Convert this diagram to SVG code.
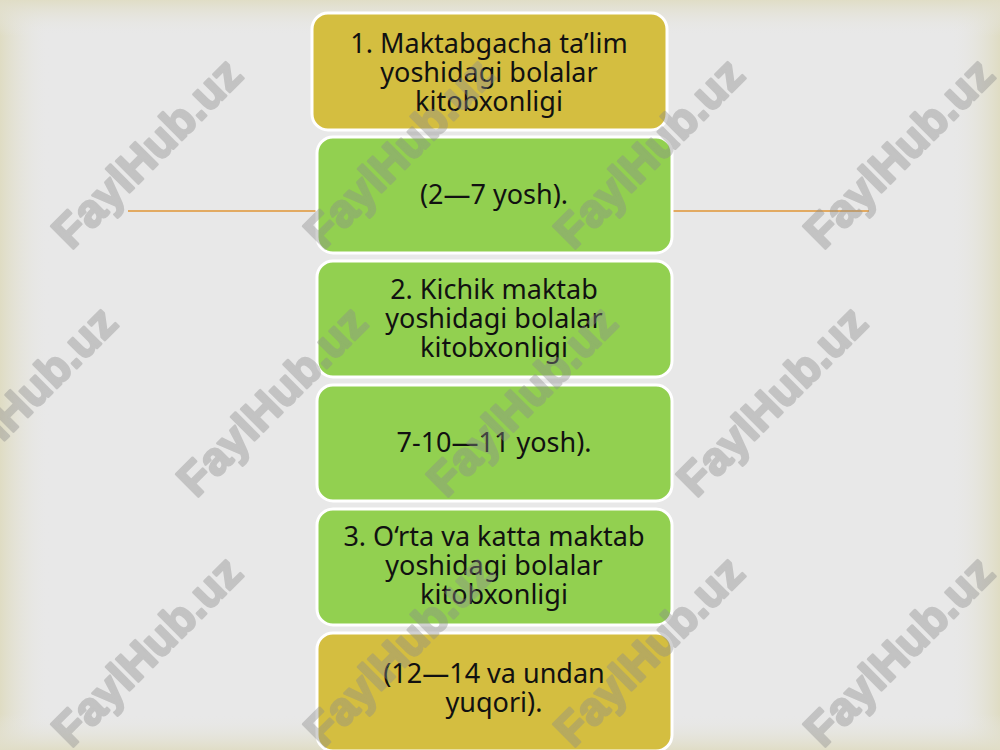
<svg xmlns="http://www.w3.org/2000/svg" width="1000" height="750" viewBox="0 0 1000 750">
<defs>
<linearGradient id="gl" x1="0" y1="0" x2="1" y2="0"><stop offset="0" stop-color="#dfdcc3"/><stop offset="1" stop-color="#e8e8e8" stop-opacity="0"/></linearGradient>
<linearGradient id="gr" x1="1" y1="0" x2="0" y2="0"><stop offset="0" stop-color="#dfdcc3"/><stop offset="1" stop-color="#e8e8e8" stop-opacity="0"/></linearGradient>
<linearGradient id="gt" x1="0" y1="0" x2="0" y2="1"><stop offset="0" stop-color="#e0ddc6"/><stop offset="1" stop-color="#e8e8e8" stop-opacity="0"/></linearGradient>
<linearGradient id="gb" x1="0" y1="1" x2="0" y2="0"><stop offset="0" stop-color="#e0ddc6"/><stop offset="1" stop-color="#e8e8e8" stop-opacity="0"/></linearGradient>
</defs>
<style>
.box{stroke:#ffffff;stroke-width:3}
.y{fill:#d4be40}
.g{fill:#92d050}
.t{font-family:"Noto Sans","Open Sans","DejaVu Sans",sans-serif;font-size:27px;fill:#111;text-anchor:middle}
.line{stroke:#e2aa62;stroke-width:2;fill:none}
.wm{font-family:"Liberation Sans",Arial,sans-serif;font-weight:bold;font-size:46px;fill:#8c8c8c;stroke:#8c8c8c;stroke-width:2.5;stroke-linejoin:round;text-anchor:middle}
</style>
<rect x="0" y="0" width="1000" height="750" fill="#e8e8e8"/>
<rect x="0" y="0" width="50" height="750" fill="url(#gl)"/>
<rect x="950" y="0" width="50" height="750" fill="url(#gr)"/>
<rect x="0" y="0" width="1000" height="36" fill="url(#gt)"/>
<rect x="0" y="714" width="1000" height="36" fill="url(#gb)"/>
<g id="connectors">
<line class="line" x1="128" y1="211" x2="316" y2="211"/>
<line class="line" x1="672" y1="211" x2="869" y2="211"/>
</g>
<g id="node1"><rect class="box y" x="312" y="13" width="355" height="117" rx="16"/>
<text class="t" x="489" y="53">1. Maktabgacha ta’lim</text><text class="t" x="489" y="82">yoshidagi bolalar</text><text class="t" x="489" y="111">kitobxonligi</text></g>
<g id="node2"><rect class="box g" x="317" y="137" width="355" height="116" rx="16"/>
<text class="t" x="494" y="204">(2—7 yosh).</text></g>
<g id="node3"><rect class="box g" x="317" y="261" width="355" height="116" rx="16"/>
<text class="t" x="494" y="299">2. Kichik maktab</text><text class="t" x="494" y="328">yoshidagi bolalar</text><text class="t" x="494" y="357">kitobxonligi</text></g>
<g id="node4"><rect class="box g" x="317" y="385" width="355" height="116" rx="16"/>
<text class="t" x="494" y="452">7-10—11 yosh).</text></g>
<g id="node5"><rect class="box g" x="317" y="509" width="355" height="116" rx="16"/>
<text class="t" x="494" y="546">3. O‘rta va katta maktab</text><text class="t" x="494" y="575">yoshidagi bolalar</text><text class="t" x="494" y="604">kitobxonligi</text></g>
<g id="node6"><rect class="box y" x="317" y="633" width="355" height="118" rx="16"/>
<text class="t" x="494" y="683">(12—14 va undan</text><text class="t" x="494" y="712">yuqori).</text></g>
<g id="watermarks" opacity="0.4">
<text class="wm" transform="translate(158,164) rotate(-45)">FaylHub.uz</text>
<text class="wm" transform="translate(410,164) rotate(-45)">FaylHub.uz</text>
<text class="wm" transform="translate(660,164) rotate(-45)">FaylHub.uz</text>
<text class="wm" transform="translate(910,164) rotate(-45)">FaylHub.uz</text>
<text class="wm" transform="translate(33,412) rotate(-45)">FaylHub.uz</text>
<text class="wm" transform="translate(283,412) rotate(-45)">FaylHub.uz</text>
<text class="wm" transform="translate(533,412) rotate(-45)">FaylHub.uz</text>
<text class="wm" transform="translate(783,412) rotate(-45)">FaylHub.uz</text>
<text class="wm" transform="translate(158,662) rotate(-45)">FaylHub.uz</text>
<text class="wm" transform="translate(410,662) rotate(-45)">FaylHub.uz</text>
<text class="wm" transform="translate(660,662) rotate(-45)">FaylHub.uz</text>
<text class="wm" transform="translate(910,662) rotate(-45)">FaylHub.uz</text>
</g>
</svg>
